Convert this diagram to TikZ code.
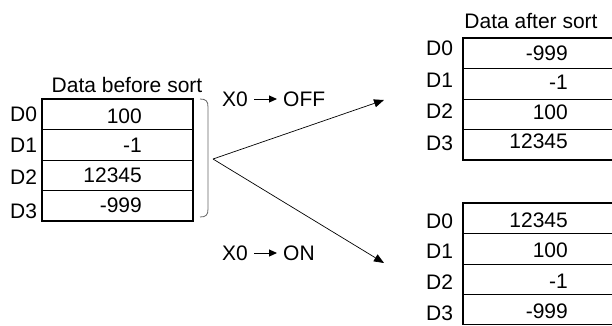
\documentclass[tikz,border=0pt]{standalone}
\usepackage{fontspec}
\setmainfont{Liberation Sans}
\usetikzlibrary{arrows.meta}
\begin{document}
\begin{tikzpicture}[x=1pt,y=-1pt,
  font=\fontsize{21}{25}\selectfont,
  txt/.style={inner sep=0pt, text height=15pt, text depth=0pt},
  val/.style={txt, anchor=east},
  lbl/.style={txt, anchor=west},
  outer/.style={line width=1.8pt, black},
  sep/.style={line width=0.9pt, black},
  conn/.style={line width=0.7pt, -{Triangle[length=10pt,width=8pt]}},
  small/.style={line width=1pt, -{Triangle[length=8pt,width=7pt]}, shorten <=6pt, shorten >=6pt}]
\useasboundingbox (0,0) rectangle (612,325);

% ---------- left table (before sort)
\node[txt] (tb) at (127,85) {Data before sort};
\draw[sep] (42,129.5) -- (193,129.5) (42,160) -- (193,160) (42,190.5) -- (193,190.5);
\draw[outer] (42,99) rectangle (193,221);
\node[val] (a0) at (142,115.5) {100};
\node[val] (a1) at (142,145) {-1};
\node[val] (a2) at (142,175) {12345};
\node[val] (a3) at (142,205) {-999};
\node[lbl] (la0) at (10,114) {D0};
\node[lbl] (la1) at (10,145) {D1};
\node[lbl] (la2) at (10,177) {D2};
\node[lbl] (la3) at (10,211) {D3};

% bracket
\draw[line width=0.8pt, gray!80!black] (200,99) .. controls (206,99) and (208,101) .. (208,107)
  -- (208,209) .. controls (208,215) and (206,217) .. (200,217);

% ---------- arrows
\coordinate (v) at (213,159);
\coordinate (t1) at (384,100);
\coordinate (t2) at (384,263);
\draw[conn] (v) -- (t1);
\draw[conn] (v) -- (t2);

\node[lbl] (x1) at (222,99) {X0};
\node[lbl] (off) at (283,99) {OFF};
\draw[small] (x1.east) -- (off.west);
\node[lbl] (x2) at (222,253) {X0};
\node[lbl] (on) at (283,253) {ON};
\draw[small] (x2.east) -- (on.west);

% ---------- right upper table (after sort, OFF)
\node[txt] (ta) at (531,21) {Data after sort};
\draw[sep] (463,68.5) -- (612,68.5) (463,99) -- (612,99) (463,129.5) -- (612,129.5);
\draw[outer] (612,38) -- (463,38) -- (463,160) -- (612,160);
\node[val] (b0) at (568,53) {-999};
\node[val] (b1) at (568,82) {-1};
\node[val] (b2) at (568,112) {100};
\node[val] (b3) at (568,141) {12345};
\node[lbl] (lb0) at (426,48) {D0};
\node[lbl] (lb1) at (426,80) {D1};
\node[lbl] (lb2) at (426,111) {D2};
\node[lbl] (lb3) at (426,143) {D3};

% ---------- right lower table (after sort, ON)
\draw[sep] (463,233.5) -- (612,233.5) (463,264) -- (612,264) (463,294.5) -- (612,294.5);
\draw[outer] (612,203) -- (463,203) -- (463,324.5) -- (612,324.5);
\node[val] (c0) at (568,220) {12345};
\node[val] (c1) at (568,250) {100};
\node[val] (c2) at (568,281) {-1};
\node[val] (c3) at (568,310.5) {-999};
\node[lbl] (lc0) at (426,221) {D0};
\node[lbl] (lc1) at (426,251) {D1};
\node[lbl] (lc2) at (426,282) {D2};
\node[lbl] (lc3) at (426,313) {D3};
\end{tikzpicture}
\end{document}
